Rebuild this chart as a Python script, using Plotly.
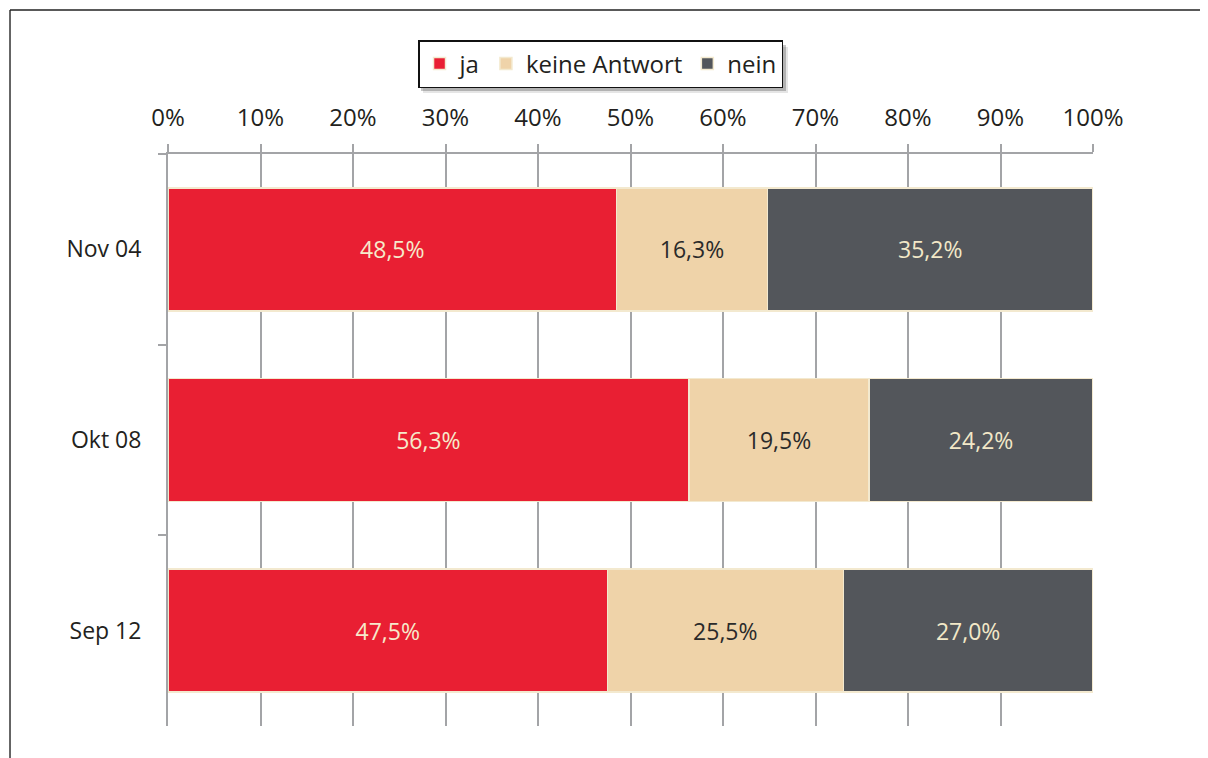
import plotly.graph_objects as go

categories = ["Nov 04", "Okt 08", "Sep 12"]
series_names = ["ja", "keine Antwort", "nein"]
ja = [48.5, 56.3, 47.5]
keine_antwort = [16.3, 19.5, 25.5]
nein = [35.2, 24.2, 27.0]
tick_vals = [0, 10, 20, 30, 40, 50, 60, 70, 80, 90, 100]
tick_text = [f"{v}%" for v in tick_vals]

colors = ["#E91F33", "#EFD3A9", "#53565B"]
text_colors = ["#F6EACB", "#2A2A2A", "#F2E8C8"]
FONT = "Open Sans, Noto Sans, sans-serif"


def fmt(v):
    return f"{v:.1f}%".replace(".", ",")


fig = go.Figure()
for name, vals, col, tcol in zip(series_names, [ja, keine_antwort, nein], colors, text_colors):
    fig.add_trace(go.Bar(
        name=name,
        y=categories,
        x=vals,
        orientation="h",
        marker=dict(color=col, line=dict(color="#F3E9CF", width=1.5)),
        text=[fmt(v) for v in vals],
        textposition="inside",
        insidetextanchor="middle",
        textangle=0,
        textfont=dict(color=tcol, size=23, family=FONT),
        hoverinfo="x+y+name",
    ))

# page frame (left and top rule)
fig.add_shape(type="line", xref="paper", yref="paper",
              x0=-0.1708, x1=-0.1708, y0=1.2517, y1=-0.06,
              line=dict(color="#333333", width=1.5))
fig.add_shape(type="line", xref="paper", yref="paper",
              x0=-0.1708, x1=1.14, y0=1.2517, y1=1.2517,
              line=dict(color="#222222", width=1.5))
# legend drop shadow
for dx, alpha in [(5, 0.10), (3, 0.22)]:
    fig.add_shape(type="rect", xref="paper", yref="paper",
                  x0=(418 + dx - 168) / 925, x1=(783 + dx - 168) / 925,
                  y0=(726 - 88 - dx) / 572, y1=(726 - 42 - dx) / 572,
                  line=dict(width=0), fillcolor=f"rgba(0,0,0,{alpha})")

fig.update_layout(
    width=1200,
    height=750,
    barmode="stack",
    bargap=0.355,
    plot_bgcolor="white",
    paper_bgcolor="white",
    font=dict(family=FONT, size=23, color="#231F20"),
    margin=dict(l=160, r=115, t=146, b=32),
    legend=dict(
        orientation="h",
        x=0.4676, xanchor="center",
        y=1.1993, yanchor="top",
        bgcolor="white",
        bordercolor="#111111",
        borderwidth=1.5,
        font=dict(size=24, family=FONT, color="#231F20"),
        itemwidth=30,
        traceorder="normal",
    ),
    xaxis=dict(
        side="top",
        range=[0, 100],
        tickvals=tick_vals,
        ticktext=tick_text,
        showgrid=True,
        gridcolor="#A3A4A7",
        gridwidth=2,
        showline=True,
        linecolor="#A3A4A7",
        linewidth=2,
        ticks="outside",
        ticklen=8,
        tickwidth=2,
        tickcolor="#A3A4A7",
        zeroline=False,
        tickfont=dict(size=24),
        ticklabelstandoff=8,
        fixedrange=True,
    ),
    yaxis=dict(
        categoryorder="array",
        categoryarray=categories,
        autorange="reversed",
        showline=True,
        linecolor="#A3A4A7",
        linewidth=2,
        ticks="outside",
        tickson="boundaries",
        ticklen=8,
        tickwidth=2,
        tickcolor="#A3A4A7",
        showgrid=False,
        tickfont=dict(size=23),
        ticklabelstandoff=20,
        fixedrange=True,
    ),
)

fig.write_html("out.html")
